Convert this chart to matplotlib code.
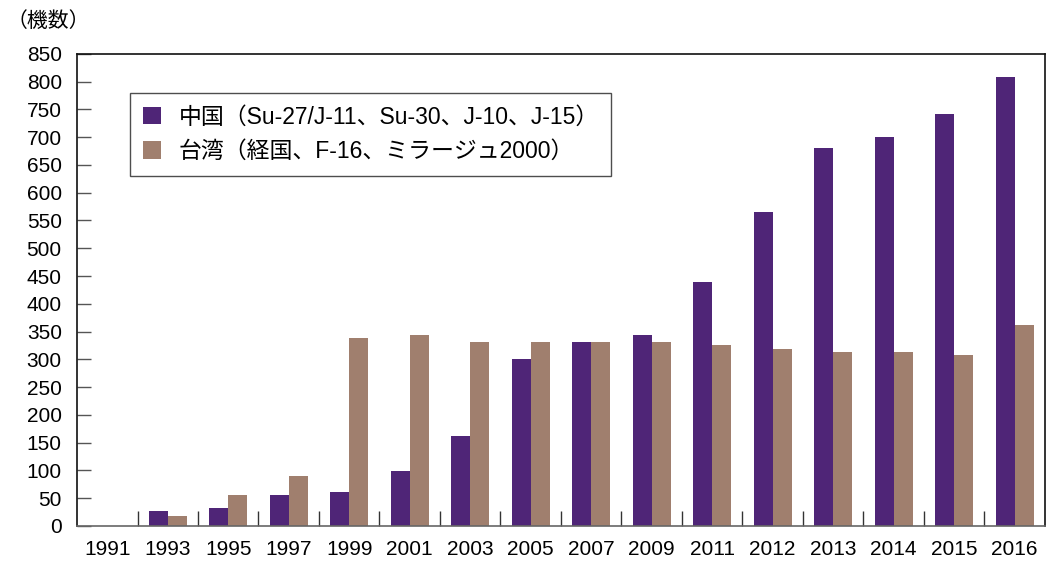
import numpy as np
import matplotlib.pyplot as plt
from matplotlib.patches import Patch

plt.rcParams['font.family'] = ['Liberation Sans', 'Noto Sans CJK JP', 'DejaVu Sans']

# 年次と各国の戦闘機数
years = ["1991", "1993", "1995", "1997", "1999", "2001", "2003", "2005",
         "2007", "2009", "2011", "2012", "2013", "2014", "2015", "2016"]
china = [0, 27, 33, 56, 61, 99, 162, 301, 331, 344, 440, 566, 681, 701, 742, 809]
taiwan = [0, 18, 56, 90, 339, 344, 331, 331, 331, 331, 326, 319, 314, 314, 308, 362]

china_label = "中国（Su-27/J-11、Su-30、J-10、J-15）"
taiwan_label = "台湾（経国、F-16、ミラージュ2000）"

c_china = "#4f2577"
c_taiwan = "#a07f6e"

fig = plt.figure(figsize=(10.48, 5.61), dpi=100)
ax = fig.add_axes([0.0735, 0.0624, 0.9235, 0.8416])

x = np.arange(len(years))
w = 0.315
ax.bar(x - w / 2, china, width=w, color=c_china)
ax.bar(x + w / 2, taiwan, width=w, color=c_taiwan)

ax.set_xlim(-0.5, len(years) - 0.5)
ax.set_ylim(0, 850)
ax.set_yticks(range(0, 851, 50))
ax.tick_params(axis='y', direction='in', length=10, width=1, color='#555555',
               labelsize=15, pad=11)

ax.set_xticks(x)
ax.set_xticklabels(years)
ax.set_xticks(np.arange(0.5, len(years) - 0.5, 1), minor=True)
ax.tick_params(axis='x', which='major', length=0, labelsize=15, pad=10)
ax.tick_params(axis='x', which='minor', direction='in', length=11, width=1,
               color='#333333')

for s in ax.spines.values():
    s.set_linewidth(1.2)
    s.set_color('#111111')
ax.spines['bottom'].set_color('#666666')

fig.text(0.006, 0.962, "（機数）", fontsize=15,
         family=['Liberation Sans', 'Noto Sans CJK JP'],
         va='center', ha='left')

handles = [Patch(facecolor=c_china, edgecolor='none'),
           Patch(facecolor=c_taiwan, edgecolor='none')]
leg = ax.legend(handles, [china_label, taiwan_label],
                loc='upper left', bbox_to_anchor=(0.055, 0.917),
                prop={'family': ['Liberation Sans', 'Noto Sans CJK JP'], 'size': 16.5},
                frameon=True, fancybox=False, edgecolor='#222222',
                handlelength=0.8, handleheight=0.8, handletextpad=0.75,
                labelspacing=0.5, borderpad=0.55, borderaxespad=0)
leg.get_frame().set_linewidth(1.0)

fig.savefig("out.png", dpi=100)
